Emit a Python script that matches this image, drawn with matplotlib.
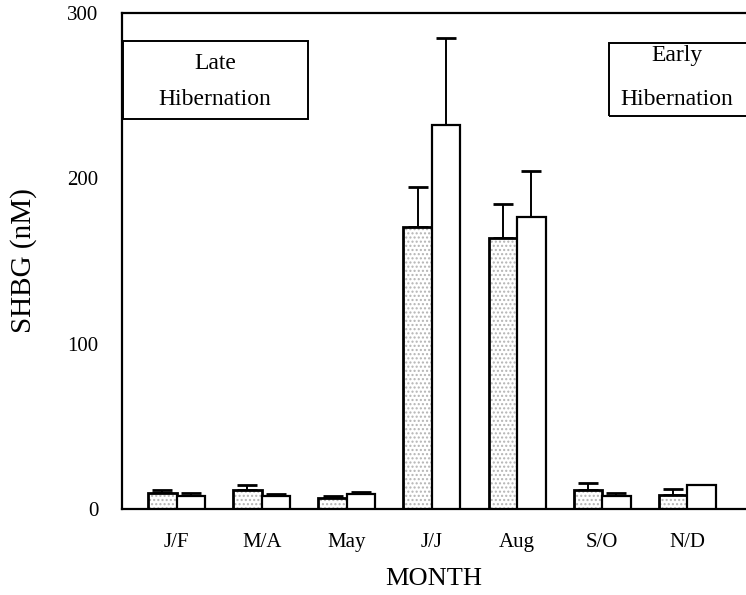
import matplotlib
matplotlib.use("Agg")
import matplotlib.pyplot as plt
from matplotlib.patches import Rectangle
import numpy as np

plt.rcParams['font.family'] = ['Liberation Serif', 'DejaVu Serif']

months = ["J/F", "M/A", "May", "J/J", "Aug", "S/O", "N/D"]
shaded_mean = [9.7, 11.3, 6.7, 170.6, 164.0, 11.7, 8.7]
shaded_err = [1.6, 3.2, 1.3, 24.2, 20.5, 4.2, 3.2]
open_mean = [8.0, 7.7, 9.1, 232.0, 176.6, 8.0, 14.5]
open_err = [1.7, 1.4, 0.9, 53.0, 27.9, 1.5, 0.0]
yticks = [0, 100, 200, 300]

fig = plt.figure(figsize=(7.46, 5.95), dpi=100)
ax = fig.add_axes([122/746, 86/595, 624/746, 496/595])

x = np.arange(len(months))
w = 0.335

# stippled fill
ax.bar(x - w/2, shaded_mean, w, align='center', facecolor='white',
       edgecolor='#b4b4b4', hatch='....', linewidth=0, zorder=2)
ax.bar(x - w/2, shaded_mean, w, align='center', fill=False,
       edgecolor='black', linewidth=2.0, zorder=3)
ax.bar(x + w/2, open_mean, w, align='center', facecolor='white',
       edgecolor='black', linewidth=1.6, zorder=3)

ax.errorbar(x - w/2, shaded_mean, yerr=[np.zeros(len(x)), shaded_err],
            fmt='none', ecolor='black', elinewidth=1.4, capsize=7, capthick=2, zorder=1)
ax.errorbar(x + w/2, open_mean, yerr=[np.zeros(len(x)), open_err],
            fmt='none', ecolor='black', elinewidth=1.4, capsize=7, capthick=2, zorder=1)

ax.set_xlim(-0.642, 6.69)
ax.set_ylim(0, 300)
ax.set_xticks(x)
ax.set_xticklabels(months, fontsize=15)
ax.set_yticks(yticks)
ax.set_yticklabels([str(t) for t in yticks], fontsize=15)
ax.tick_params(axis='both', length=0)
ax.tick_params(axis='x', pad=17)
ax.tick_params(axis='y', pad=17)

for s in ['left', 'bottom', 'top']:
    ax.spines[s].set_linewidth(1.6)
ax.spines['right'].set_visible(False)

ax.set_xlabel("MONTH", fontsize=19, labelpad=12)
ax.set_ylabel("SHBG (nM)", fontsize=21, labelpad=22)

# annotation boxes
ax.add_patch(Rectangle((0.0016, 0.786), 0.296, 0.158, transform=ax.transAxes,
                       fill=False, edgecolor='black', linewidth=1.4, clip_on=False))
ax.text(0.149, 0.899, "Late", transform=ax.transAxes, ha='center', va='center', fontsize=17)
ax.text(0.149, 0.825, "Hibernation", transform=ax.transAxes, ha='center', va='center', fontsize=17)

ax.add_patch(Rectangle((0.780, 0.792), 0.25, 0.148, transform=ax.transAxes,
                       fill=False, edgecolor='black', linewidth=1.4, clip_on=False))
ax.text(0.889, 0.915, "Early", transform=ax.transAxes, ha='center', va='center', fontsize=17)
ax.text(0.889, 0.825, "Hibernation", transform=ax.transAxes, ha='center', va='center', fontsize=17)

fig.savefig("out.png", dpi=100)
